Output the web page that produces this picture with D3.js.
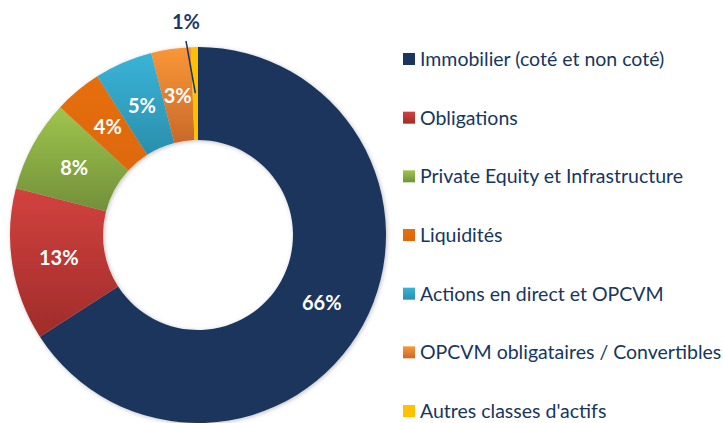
<!DOCTYPE html>
<html lang="fr">
<head>
<meta charset="UTF-8">
<title>Répartition des actifs</title>
<script src="https://d3js.org/d3.v7.min.js"></script>
<style>
  body { margin: 0; background: #fff; }
  svg { display: block; font-family: Lato, "Open Sans", sans-serif; }
  .slice-label { font-weight: bold; font-size: 20px; fill: #fff; text-anchor: middle; }
  .legend-text { font-size: 19.5px; fill: #17365d; }
</style>
</head>
<body>
<svg id="chart" width="723" height="423"></svg>
<script>
// data (percent of total)
const categories = [
  "Immobilier (coté et non coté)",
  "Obligations",
  "Private Equity et Infrastructure",
  "Liquidités",
  "Actions en direct et OPCVM",
  "OPCVM obligataires / Convertibles",
  "Autres classes d'actifs"
];
const values = [65.9, 13.1, 7.9, 4.1, 5.0, 3.4, 0.6];
// top / bottom colour of each slice gradient
const colorsTop = ["#1a365d", "#d2423f", "#9fc54d", "#e66e0c", "#3ab4d8", "#fa9737", "#ffc000"];
const colorsBottom = ["#1a365d", "#a02c2a", "#72903a", "#de680a", "#2a8fab", "#c9692a", "#ffc000"];

const svg = d3.select("#chart");
const cx = 198, cy = 235, outerR = 188, innerR = 95;

const defs = svg.append("defs");
categories.forEach((c, i) => {
  const g = defs.append("linearGradient")
    .attr("id", "grad" + i)
    .attr("x1", 0).attr("y1", 0).attr("x2", 0).attr("y2", 1);
  g.append("stop").attr("offset", "0%").attr("stop-color", colorsTop[i]);
  g.append("stop").attr("offset", "100%").attr("stop-color", colorsBottom[i]);
});
const shadow = defs.append("filter").attr("id", "shadow")
  .attr("x", "-10%").attr("y", "-10%").attr("width", "120%").attr("height", "120%");
shadow.append("feDropShadow")
  .attr("dx", 1).attr("dy", 1).attr("stdDeviation", 2)
  .attr("flood-color", "#000").attr("flood-opacity", 0.25);

const pie = d3.pie().sort(null).value(d => d);
const arcs = pie(values);
const arc = d3.arc().innerRadius(innerR).outerRadius(outerR);
const labelArc = d3.arc().innerRadius(141).outerRadius(141);

const g = svg.append("g").attr("transform", `translate(${cx},${cy})`);

g.append("g").attr("filter", "url(#shadow)")
  .selectAll("path")
  .data(arcs)
  .join("path")
  .attr("d", arc)
  .attr("fill", (d, i) => `url(#grad${i})`);

// labels inside the ring (all but the last, tiny slice)
g.selectAll(".slice-label")
  .data(arcs.slice(0, -1))
  .join("text")
  .attr("class", "slice-label")
  .attr("transform", d => `translate(${labelArc.centroid(d)})`)
  .attr("dy", "0.36em")
  .text(d => Math.round(d.data) + "%");

// the tiny slice gets its label outside with a leader line
const last = arcs[arcs.length - 1];
const mid = (last.startAngle + last.endAngle) / 2;
const p1 = [Math.sin(mid) * 142, -Math.cos(mid) * 142];
const p2 = [-12, -194];
g.append("line")
  .attr("x1", p1[0]).attr("y1", p1[1])
  .attr("x2", p2[0]).attr("y2", p2[1])
  .attr("stroke", "#17365d").attr("stroke-width", 1.5);
g.append("text")
  .attr("class", "slice-label")
  .attr("x", p2[0]).attr("y", -213)
  .attr("dy", "0.36em")
  .style("fill", "#1f3864")
  .text(Math.max(1, Math.round(last.data)) + "%");

// legend
const y = d3.scalePoint().domain(categories).range([59, 411]);
const legend = svg.append("g").selectAll("g")
  .data(categories)
  .join("g")
  .attr("transform", d => `translate(403,${y(d)})`);
legend.append("rect")
  .attr("x", 0).attr("y", -6)
  .attr("width", 12).attr("height", 12)
  .attr("fill", (d, i) => `url(#grad${i})`);
legend.append("text")
  .attr("class", "legend-text")
  .attr("x", 17)
  .attr("dy", "0.36em")
  .text(d => d);
</script>
</body>
</html>
